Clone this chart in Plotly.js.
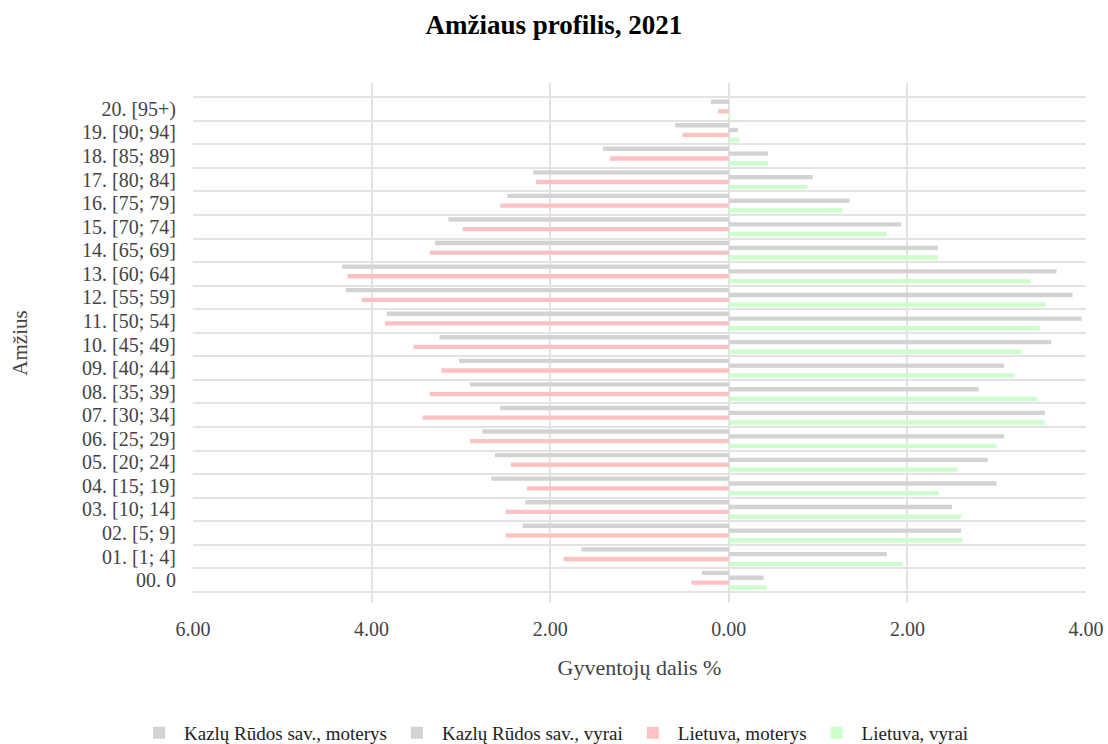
<!DOCTYPE html>
<html>
<head>
<meta charset="utf-8">
<script src="https://cdn.plot.ly/plotly-3.0.1.min.js"></script>
<style>html,body{margin:0;padding:0;background:#fff;}#chart{width:1108px;height:744px;}</style>
</head>
<body>
<div id="chart"></div>
<script>
const categories = ["00. 0", "01. [1; 4]", "02. [5; 9]", "03. [10; 14]", "04. [15; 19]", "05. [20; 24]", "06. [25; 29]", "07. [30; 34]", "08. [35; 39]", "09. [40; 44]", "10. [45; 49]", "11. [50; 54]", "12. [55; 59]", "13. [60; 64]", "14. [65; 69]", "15. [70; 74]", "16. [75; 79]", "17. [80; 84]", "18. [85; 89]", "19. [90; 94]", "20. [95+)"];
const kazluMoterys = [-0.30, -1.65, -2.31, -2.28, -2.66, -2.62, -2.76, -2.56, -2.90, -3.02, -3.24, -3.83, -4.29, -4.33, -3.29, -3.14, -2.48, -2.19, -1.41, -0.60, -0.20];
const kazluVyrai = [0.39, 1.77, 2.60, 2.50, 3.00, 2.90, 3.08, 3.54, 2.80, 3.08, 3.61, 3.95, 3.85, 3.67, 2.34, 1.93, 1.35, 0.94, 0.44, 0.10, 0.00];
const lietuvaMoterys = [-0.42, -1.85, -2.50, -2.50, -2.26, -2.44, -2.90, -3.43, -3.35, -3.22, -3.53, -3.85, -4.11, -4.27, -3.35, -2.98, -2.56, -2.16, -1.33, -0.52, -0.12];
const lietuvaVyrai = [0.42, 1.95, 2.62, 2.60, 2.35, 2.56, 3.00, 3.54, 3.45, 3.20, 3.28, 3.48, 3.55, 3.38, 2.34, 1.77, 1.27, 0.88, 0.44, 0.12, 0.02];
const xTickVals = [-6, -4, -2, 0, 2, 4];
const xTickText = ["6.00", "4.00", "2.00", "0.00", "2.00", "4.00"];

const FONT = "Liberation Serif, Times New Roman, serif";
function tr(name, x, color) {
  return {type: 'bar', orientation: 'h', name: name, x: x, y: categories,
          marker: {color: color, line: {width: 0}}, hoverinfo: 'name+x'};
}
// order: bottom-most first in group
const data = [
  tr("Lietuva, vyrai", lietuvaVyrai, "#ccffcc"),
  tr("Lietuva, moterys", lietuvaMoterys, "#ffc2c2"),
  tr("Kazlų Rūdos sav., vyrai", kazluVyrai, "#d3d3d3"),
  tr("Kazlų Rūdos sav., moterys", kazluMoterys, "#d3d3d3")
];
const layout = {
  width: 1108, height: 744,
  margin: {l: 193, r: 22, t: 83, b: 141},
  paper_bgcolor: '#fff', plot_bgcolor: '#fff',
  font: {family: FONT, color: '#444', size: 19},
  barmode: 'group', bargap: 0.18, bargroupgap: 0.1,
  title: {text: "<b>Amžiaus profilis, 2021</b>", x: 0.5, xanchor: 'center', yref: 'container', y: 0.967, yanchor: 'middle',
          font: {family: FONT, size: 27, color: '#000'}},
  xaxis: {range: [-6, 4], tickmode: 'array', tickvals: xTickVals, ticktext: xTickText,
          showgrid: true, gridcolor: '#e3e3e3', gridwidth: 2, zeroline: false, showline: false,
          ticks: '', ticklabelstandoff: 12, tickfont: {family: FONT, size: 20, color: '#444'},
          title: {text: "Gyventojų dalis %", standoff: 20, font: {family: FONT, size: 22, color: '#444'}}, fixedrange: true},
  yaxis: {type: 'category', range: [-0.97, 21.1], tickmode: 'linear', tick0: 0, dtick: 1, tickson: 'boundaries',
          showgrid: true, gridcolor: '#e3e3e3', gridwidth: 2,
          ticks: '', showline: false, zeroline: false, ticklabelstandoff: 16,
          tickfont: {family: FONT, size: 20, color: '#444'},
          title: {text: "Amžius", standoff: 48, font: {family: FONT, size: 21, color: '#444'}}, fixedrange: true},
  legend: {orientation: 'h', traceorder: 'reversed', x: 0.5, xref: 'container', xanchor: 'center',
           yref: 'container', y: 0.015, yanchor: 'middle', font: {family: FONT, size: 19, color: '#222'},
           itemwidth: 40},
  showlegend: true
};
Plotly.newPlot('chart', data, layout, {displayModeBar: false, staticPlot: false});
</script>
</body>
</html>
